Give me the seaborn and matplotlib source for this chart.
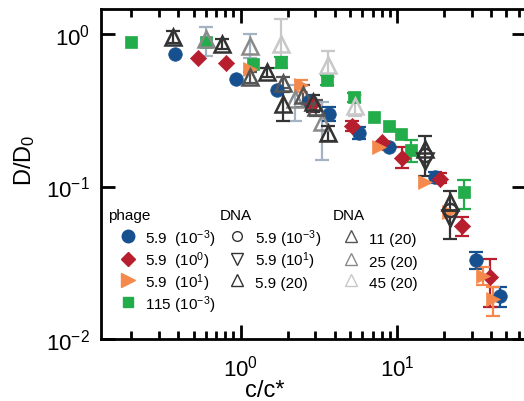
import numpy as np
import pandas as pd
import seaborn as sns
import matplotlib
matplotlib.use("Agg")
import matplotlib.pyplot as plt
from matplotlib.lines import Line2D
from matplotlib.ticker import NullLocator, LogLocator

# ---------------- data ----------------
# phage 5.9 (10^-3)  blue circles
p1_x  = [0.38, 0.94, 1.70, 2.72, 3.66, 5.69, 8.85, 17.6, 32.0, 45.6]
p1_y  = [0.74, 0.507, 0.43, 0.365, 0.30, 0.226, 0.181, 0.115, 0.033, 0.0192]
p1_lo = [0.74, 0.507, 0.43, 0.365, 0.27, 0.205, 0.181, 0.105, 0.0288, 0.0163]
p1_hi = [0.74, 0.507, 0.43, 0.365, 0.33, 0.245, 0.181, 0.125, 0.037, 0.0219]
# phage 5.9 (10^0)  red diamonds
p2_x  = [0.535, 0.805, 2.85, 5.15, 8.0, 10.8, 18.9, 25.9, 39.4]
p2_y  = [0.70, 0.643, 0.35, 0.25, 0.195, 0.155, 0.112, 0.0554, 0.0254]
p2_lo = [0.70, 0.643, 0.35, 0.23, 0.195, 0.133, 0.105, 0.0475, 0.0162]
p2_hi = [0.70, 0.643, 0.35, 0.27, 0.195, 0.181, 0.122, 0.063, 0.0335]
# phage 5.9 (10^1)  orange right triangles
p3_x  = [1.15, 2.45, 7.64, 15.2, 21.6, 35.3, 41.3]
p3_y  = [0.59, 0.46, 0.181, 0.107, 0.068, 0.026, 0.0183]
p3_lo = [0.59, 0.42, 0.181, 0.107, 0.068, 0.0225, 0.0142]
p3_hi = [0.59, 0.50, 0.181, 0.107, 0.068, 0.0295, 0.0219]
# phage 115 (10^-3)  green squares
p4_x  = [0.199, 0.60, 1.20, 1.80, 3.55, 5.31, 7.1, 8.85, 10.65, 12.35, 26.8]
p4_y  = [0.883, 0.883, 0.635, 0.652, 0.50, 0.385, 0.284, 0.25, 0.221, 0.174, 0.0916]
p4_lo = [0.883, 0.883, 0.635, 0.60, 0.46, 0.36, 0.284, 0.25, 0.221, 0.144, 0.071]
p4_hi = [0.883, 0.883, 0.635, 0.71, 0.54, 0.41, 0.284, 0.25, 0.221, 0.203, 0.111]

# DNA 5.9 (10^-3) open circles
d1_x  = [15.2, 22.0]
d1_y  = [0.16, 0.070]
d1_lo = [0.117, 0.045]
d1_hi = [0.215, 0.094]
# DNA 5.9 (10^1) open down triangles
d2_x  = [15.2, 22.0]
d2_y  = [0.146, 0.062]
# DNA 5.9 (20) open up triangles
d3_x  = [0.37, 0.755, 1.47, 1.87, 2.92, 3.63, 15.2, 22.0]
d3_y  = [0.95, 0.86, 0.56, 0.35, 0.357, 0.226, 0.176, 0.079]
d3_lo = [0.87, 0.80, 0.52, 0.27, 0.31, 0.20, 0.176, 0.079]
d3_hi = [1.05, 0.93, 0.60, 0.42, 0.40, 0.25, 0.176, 0.079]
# DNA 11 (20)
d4_x  = [1.15, 1.86, 2.50, 3.05]
d4_y  = [0.52, 0.48, 0.40, 0.33]
d4_lo = [0.48, 0.44, 0.33, 0.29]
d4_hi = [0.56, 0.52, 0.46, 0.37]
# DNA 25 (20)
d5_x  = [0.60, 1.15, 2.22, 3.30]
d5_y  = [0.93, 0.83, 0.375, 0.264]
d5_lo = [0.72, 0.70, 0.27, 0.15]
d5_hi = [1.12, 1.00, 0.46, 0.36]
# DNA 45 (20)
d6_x  = [1.81, 3.60, 5.41]
d6_y  = [0.86, 0.63, 0.339]
d6_lo = [0.60, 0.52, 0.29]
d6_hi = [1.25, 0.77, 0.40]

phage_labels = ["5.9  (10$^{-3}$)", "5.9  (10$^{0}$)", "5.9  (10$^{1}$)", "115 (10$^{-3}$)"]
dna1_labels = ["5.9 (10$^{-3}$)", "5.9 (10$^{1}$)", "5.9 (20)"]
dna2_labels = ["11 (20)", "25 (20)", "45 (20)"]

# ---------------- style ----------------
sns.set_style("ticks")
plt.rcParams['font.family'] = ['Liberation Sans', 'DejaVu Sans']
plt.rcParams['mathtext.fontset'] = 'custom'
plt.rcParams['mathtext.rm'] = 'Liberation Sans'
plt.rcParams['mathtext.it'] = 'Liberation Sans:italic'
plt.rcParams['mathtext.bf'] = 'Liberation Sans:bold'
for k in ['text.color', 'axes.labelcolor', 'xtick.color', 'ytick.color', 'axes.edgecolor']:
    plt.rcParams[k] = 'black'

C_BLUE, C_RED, C_ORANGE, C_GREEN = "#17508f", "#b71f2e", "#f5894b", "#23ad4a"
C_K, C_D, C_M, C_L = "#333333", "#555555", "#8a8a8a", "#c8c8c8"
C_MERR = "#a3b3c3"

W, H = 524, 402
fig = plt.figure(figsize=(W / 100, H / 100), dpi=100)
ax = fig.add_axes([101 / W, 62 / H, 424.5 / W, 330 / H])
ax.set_xscale('log')
ax.set_yscale('log')


def ebar(x, y, lo, hi, color, lw=1.6, z=2):
    x = np.asarray(x); y = np.asarray(y); lo = np.asarray(lo); hi = np.asarray(hi)
    m = (hi - lo) > 1e-9
    if m.any():
        ax.errorbar(x[m], y[m], yerr=[y[m] - lo[m], hi[m] - y[m]], fmt='none',
                    ecolor=color, elinewidth=lw, capsize=5, capthick=lw, zorder=z)


# DNA error bars
ebar(d6_x, d6_y, d6_lo, d6_hi, C_L)
ebar(d5_x, d5_y, d5_lo, d5_hi, C_MERR)
ebar(d4_x, d4_y, d4_lo, d4_hi, C_D)
ebar(d3_x, d3_y, d3_lo, d3_hi, C_K)
ebar(d1_x, d1_y, d1_lo, d1_hi, C_K)

# phage error bars
ebar(p1_x, p1_y, p1_lo, p1_hi, C_BLUE, z=3)
ebar(p2_x, p2_y, p2_lo, p2_hi, C_RED, z=3)
ebar(p3_x, p3_y, p3_lo, p3_hi, C_ORANGE, z=3)
ebar(p4_x, p4_y, p4_lo, p4_hi, C_GREEN, z=3)

# phage markers via seaborn
for xs, ys, mk, col, s in [(p4_x, p4_y, 's', C_GREEN, 85),
                            (p1_x, p1_y, 'o', C_BLUE, 95),
                            (p2_x, p2_y, 'D', C_RED, 68),
                            (p3_x, p3_y, '>', C_ORANGE, 100)]:
    df = pd.DataFrame({"x": xs, "y": ys})
    sns.scatterplot(data=df, x="x", y="y", marker=mk, color=col, s=s,
                    edgecolor=col, linewidth=0.5, ax=ax, zorder=4, legend=False)

# DNA open markers
for xs, ys, mk, col, ms in [(d6_x, d6_y, '^', C_L, 11),
                             (d5_x, d5_y, '^', C_M, 11),
                             (d4_x, d4_y, '^', C_D, 11),
                             (d3_x, d3_y, '^', C_K, 11),
                             (d1_x, d1_y, 'o', C_K, 9.5),
                             (d2_x, d2_y, 'v', C_K, 11)]:
    ax.plot(xs, ys, ls='none', marker=mk, mfc='none', mec=col, ms=ms, mew=1.8, zorder=5)

# axes
ax.set_xlim(0.128, 66.4)
ax.set_ylim(0.01, 1.46)
ax.xaxis.set_major_locator(LogLocator(base=10, numticks=10))
ax.xaxis.set_minor_locator(LogLocator(base=10, subs=np.arange(2, 10), numticks=20))
ax.yaxis.set_minor_locator(NullLocator())
for sp in ax.spines.values():
    sp.set_linewidth(2)
    sp.set_color('black')
ax.tick_params(which='both', direction='in', top=True, right=True, width=2, color='black',
               labelcolor='black')
ax.tick_params(which='major', length=10, labelsize=16)
ax.tick_params(axis='x', which='major', pad=11)
ax.tick_params(axis='y', which='major', pad=8)
ax.tick_params(which='minor', length=6)
ax.set_xlabel('c/c*', fontsize=17)
ax.set_ylabel('D/D$_0$', fontsize=17)
ax.xaxis.set_label_coords((265 - 101) / 424.5, -0.122)
ax.yaxis.set_label_coords(-0.15, 0.545)

# legend (manual, in figure pixel coordinates)
def fx(px):
    return px / W


def fy(py):
    return 1 - py / H


fs = 11
fig.text(fx(108), fy(220), 'phage', fontsize=fs, va='baseline', ha='left')
fig.text(fx(220), fy(220), 'DNA', fontsize=fs, va='baseline', ha='left')
fig.text(fx(333), fy(220), 'DNA', fontsize=fs, va='baseline', ha='left')
rows = [244, 266.5, 288, 310]

ph = [('o', C_BLUE, 9), ('D', C_RED, 7.5), ('>', C_ORANGE, 10), ('s', C_GREEN, 7)]
for (mk, col, ms), lab, b in zip(ph, phage_labels, rows):
    fig.add_artist(Line2D([fx(127.5)], [fy(b - 6.8)], transform=fig.transFigure, ls='none',
                          marker=mk, color=col, mec=col, ms=ms))
    fig.text(fx(145), fy(b), lab, fontsize=fs, va='baseline', ha='left')

d1 = [('o', C_K), ('v', C_K), ('^', C_K)]
for (mk, col), lab, b in zip(d1, dna1_labels, rows):
    fig.add_artist(Line2D([fx(237)], [fy(b - 6.8)], transform=fig.transFigure, ls='none',
                          marker=mk, mfc='none', mec=col, ms=9 if mk != 'o' else 7, mew=1.0))
    fig.text(fx(255), fy(b), lab, fontsize=fs, va='baseline', ha='left')

d2 = [('^', C_D), ('^', C_M), ('^', C_L)]
for (mk, col), lab, b in zip(d2, dna2_labels, rows):
    fig.add_artist(Line2D([fx(351)], [fy(b - 6.8)], transform=fig.transFigure, ls='none',
                          marker=mk, mfc='none', mec=col, ms=9, mew=1.0))
    fig.text(fx(369), fy(b), lab, fontsize=fs, va='baseline', ha='left')

fig.savefig("out.png", dpi=100)
